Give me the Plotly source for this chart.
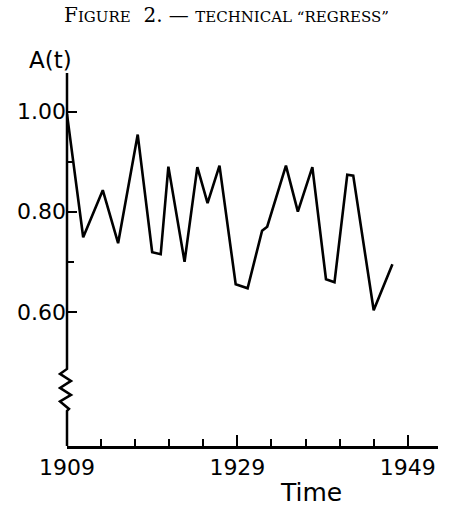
import plotly.graph_objects as go

# Data (year, A(t))
years = [1909.0, 1910.9, 1913.2, 1915.0, 1917.3, 1919.0, 1920.0, 1920.9, 1922.8,
         1924.3, 1925.5, 1926.9, 1928.8, 1930.2, 1931.9, 1932.5, 1934.7, 1936.1,
         1937.8, 1939.4, 1940.4, 1941.9, 1942.6, 1945.0, 1947.2]
values = [0.995, 0.749, 0.843, 0.737, 0.954, 0.719, 0.715, 0.890, 0.700,
          0.889, 0.817, 0.892, 0.655, 0.647, 0.762, 0.770, 0.892, 0.800,
          0.889, 0.665, 0.659, 0.874, 0.872, 0.603, 0.695]

x_major = [1909, 1929, 1949]
x_labels = ["1909", "1929", "1949"]
y_major = [0.60, 0.80, 1.00]
y_labels = ["0.60", "0.80", "1.00"]
y_minor = [0.70, 0.90]

x_range = [1909, 1952.55]
y_range = [0.332, 1.077]
# axis break (zigzag) on the y axis
break_top, break_bottom = 0.486, 0.402

W, H = 451, 515
ML, MR, MT, MB = 67, 13, 73, 69
pw, ph = W - ML - MR, H - MT - MB

fig = go.Figure()
fig.add_trace(go.Scatter(x=years, y=values, mode="lines",
                         line=dict(color="black", width=2.6),
                         cliponaxis=False,
                         hoverinfo="skip", showlegend=False))

tickfont = dict(family="DejaVu Sans", size=22, color="black")

fig.update_layout(
    width=W, height=H,
    margin=dict(l=ML, r=MR, t=MT, b=MB, autoexpand=False),
    paper_bgcolor="white", plot_bgcolor="white",
    showlegend=False,
    xaxis=dict(range=x_range, showgrid=False, zeroline=False,
               showline=True, linecolor="black", linewidth=2.5,
               tickmode="array", tickvals=x_major, ticktext=x_labels,
               ticks="inside", ticklen=11, tickwidth=2, tickcolor="black",
               tickfont=tickfont, automargin=False,
               minor=dict(ticks="inside", dtick=4, tick0=1909, ticklen=7,
                          tickwidth=2, tickcolor="black", showgrid=False)),
    yaxis=dict(range=y_range, showgrid=False, zeroline=False, showline=False,
               tickmode="array", tickvals=y_major, ticktext=y_labels,
               ticks="inside", ticklen=10, tickwidth=2, tickcolor="black",
               tickfont=tickfont, automargin=False,
               minor=dict(ticks="inside", tickmode="array", tickvals=y_minor,
                          ticklen=7, tickwidth=2, tickcolor="black",
                          showgrid=False)),
)


def yp(v):
    """data y -> paper fraction"""
    return (v - y_range[0]) / (y_range[1] - y_range[0])


# y axis line with zigzag break (x offsets in pixels from the axis)
zig = [(-7, 0.476), (4, 0.462), (-7, 0.448), (4, 0.434), (-7, 0.421), (2, 0.406)]
pts = [(0, y_range[1]), (0, break_top)] + zig + [(0, break_bottom), (0, y_range[0])]
path = "M" + " L".join(f"{a},{yp(b):.5f}" for a, b in pts)
fig.add_shape(type="path", path=path, xref="paper", yref="paper",
              xsizemode="pixel", xanchor=0,
              line=dict(color="black", width=2.5))


def add_text(text, px, py, font):
    fig.add_annotation(text=text, x=(px - ML) / pw, y=1 - (py - MT) / ph,
                       xref="paper", yref="paper", xanchor="center",
                       yanchor="middle", showarrow=False, font=font)


add_text("A(t)", 50, 60, dict(family="DejaVu Sans", size=23, color="black"))
add_text("Time", 311, 492, dict(family="DejaVu Sans", size=25, color="black"))
sc = "font-size:15px"
title = (f"F<span style='{sc}'>IGURE</span>  2. — "
         f"<span style='{sc}'>TECHNICAL “REGRESS”</span>")
add_text(title, 226, 15, dict(family="DejaVu Serif", size=20, color="black"))

fig.write_html("out.html", config={"displayModeBar": False},
               post_script="document.body.style.margin='0';")
